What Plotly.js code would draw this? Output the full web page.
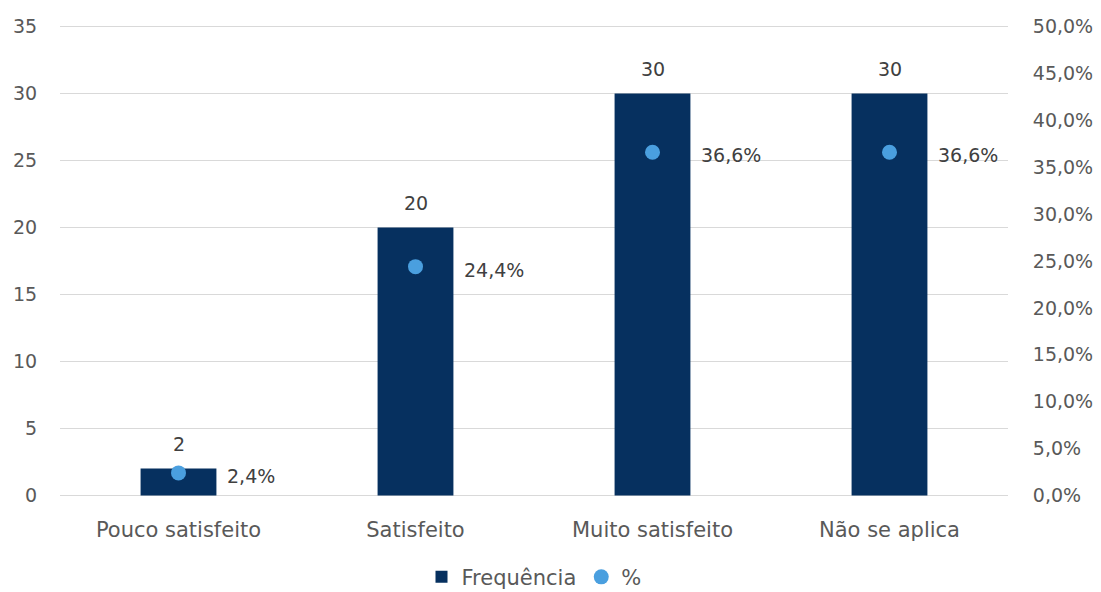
<!DOCTYPE html>
<html>
<head>
<meta charset="utf-8">
<script src="https://cdn.plot.ly/plotly-3.0.1.min.js"></script>
<style>
  html, body { margin: 0; padding: 0; background: #fff; }
  #chart { width: 1101px; height: 592px; }
</style>
</head>
<body>
<div id="chart"></div>
<script>
// Satisfaction survey: counts per answer and share of all answers
const categories = ['Pouco satisfeito', 'Satisfeito', 'Muito satisfeito', 'Não se aplica'];
const frequencia = [2, 20, 30, 30];
const percentual = [0.024, 0.244, 0.366, 0.366];

const FONT = 'DejaVu Sans, sans-serif';
const TEXT = '#595959';

// left axis 0–35 maps onto right axis 0–50 %; a little padding keeps the edge grid lines drawn
const PAD = 0.12;
const leftRange = [-PAD, 35 + PAD];
const rightRange = leftRange.map(v => v * 0.5 / 35);

const bars = {
  type: 'bar',
  name: 'Frequência',
  x: categories,
  y: frequencia,
  marker: { color: '#06305f' },
  width: 0.32,
  yaxis: 'y',
  hoverinfo: 'skip'
};

const dots = {
  type: 'scatter',
  mode: 'markers',
  name: '%',
  x: categories,
  y: percentual,
  marker: { color: '#4a9fdf', size: 15 },
  yaxis: 'y2',
  hoverinfo: 'skip'
};

// value labels above the bars and beside the dots
const annotations = [];
categories.forEach((c, i) => {
  annotations.push({
    x: c, y: frequencia[i], xref: 'x', yref: 'y',
    text: String(frequencia[i]), showarrow: false,
    yanchor: 'bottom', yshift: 12,
    font: { family: FONT, size: 19, color: '#404040' }
  });
  annotations.push({
    x: c, y: percentual[i], xref: 'x', yref: 'y2',
    text: (percentual[i] * 100).toFixed(1).replace('.', ',') + '%',
    showarrow: false, xanchor: 'left', xshift: 46, yshift: -3,
    font: { family: FONT, size: 19, color: '#404040' }
  });
});

const layout = {
  width: 1101,
  height: 592,
  margin: { l: 60, r: 93, t: 25, b: 95 },
  paper_bgcolor: '#ffffff',
  plot_bgcolor: '#ffffff',
  separators: ',.',
  font: { family: FONT, size: 19, color: TEXT },
  showlegend: true,
  legend: {
    orientation: 'h',
    x: 0.5, xanchor: 'center',
    yref: 'container', y: 0.025, yanchor: 'middle',
    font: { family: FONT, size: 21, color: TEXT },
    itemwidth: 30,
    traceorder: 'normal'
  },
  xaxis: {
    showgrid: false,
    showline: false,
    zeroline: false,
    ticks: 'outside', ticklen: 14, tickcolor: 'rgba(0,0,0,0)',
    tickfont: { family: FONT, size: 21, color: TEXT }
  },
  yaxis: {
    range: leftRange,
    tick0: 0,
    dtick: 5,
    showgrid: true,
    gridcolor: '#d9d9d9',
    gridwidth: 1.5,
    zeroline: false,
    showline: false,
    ticks: 'outside', ticklen: 18, tickcolor: 'rgba(0,0,0,0)',
    tickfont: { family: FONT, size: 19, color: TEXT }
  },
  yaxis2: {
    overlaying: 'y',
    side: 'right',
    range: rightRange,
    tick0: 0,
    dtick: 0.05,
    tickformat: '.1%',
    showgrid: false,
    zeroline: false,
    showline: false,
    ticks: 'outside', ticklen: 20, tickcolor: 'rgba(0,0,0,0)',
    tickfont: { family: FONT, size: 19, color: TEXT }
  },
  annotations: annotations
};

Plotly.newPlot('chart', [bars, dots], layout, { displayModeBar: false, staticPlot: true });
</script>
</body>
</html>
